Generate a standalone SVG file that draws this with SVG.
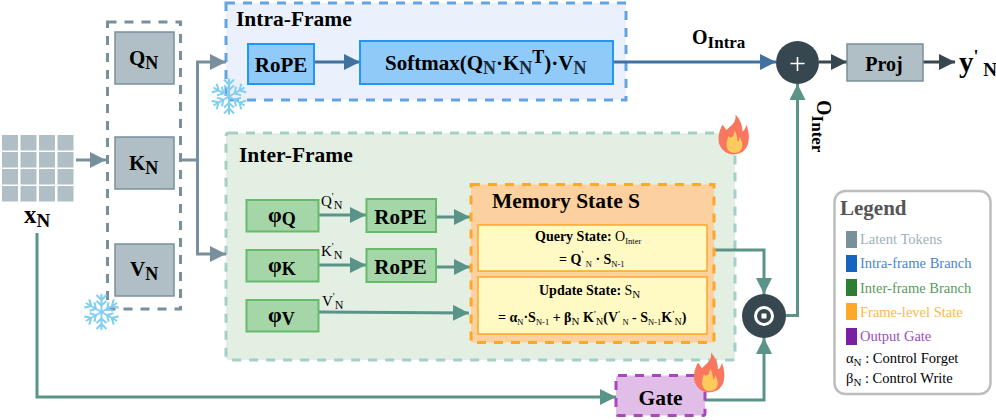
<svg xmlns="http://www.w3.org/2000/svg" xmlns:xlink="http://www.w3.org/1999/xlink" width="996" height="420" viewBox="0 0 996 420">
<style>
text{font-family:"Liberation Serif","Times New Roman",serif;fill:#000}
.b{font-weight:700}
.tk{fill:#B0BEC5;stroke:#78909C;stroke-width:1.5}
.cell{fill:#B0BEC5}
.g{fill:#A5D6A7;stroke:#66BB6A;stroke-width:2}
.bl{fill:#90CAF9;stroke:#2196F3;stroke-width:2}
.st{fill:#FFF9C4;stroke:#FFA726;stroke-width:1.5}
.c{fill:none;stroke-width:3}
.gr{stroke:#78909C}.bu{stroke:#41719F}.te{stroke:#5A9488}.dk{stroke:#37474F}
.sf{fill:none;stroke:#81CFF0;stroke-width:2}
</style>
<defs>
<marker id="aG" markerUnits="userSpaceOnUse" markerWidth="18" markerHeight="18" refX="16" refY="8" orient="auto"><path d="M0 0L16 8L0 16Z" fill="#78909C"/></marker>
<marker id="aB" markerUnits="userSpaceOnUse" markerWidth="18" markerHeight="18" refX="16" refY="8" orient="auto"><path d="M0 0L16 8L0 16Z" fill="#41719F"/></marker>
<marker id="aT" markerUnits="userSpaceOnUse" markerWidth="18" markerHeight="18" refX="16" refY="8" orient="auto"><path d="M0 0L16 8L0 16Z" fill="#5A9488"/></marker>
<marker id="aD" markerUnits="userSpaceOnUse" markerWidth="18" markerHeight="18" refX="16" refY="8" orient="auto"><path d="M0 0L16 8L0 16Z" fill="#37474F"/></marker>
<g id="snow"><g id="arm"><path class="sf" d="M0 0V-18M-5 -17L0 -12L5 -17M-5 -11L0 -6.500L5 -11"/></g>
<use xlink:href="#arm" href="#arm" transform="rotate(60)"/><use xlink:href="#arm" href="#arm" transform="rotate(120)"/><use xlink:href="#arm" href="#arm" transform="rotate(180)"/><use xlink:href="#arm" href="#arm" transform="rotate(240)"/><use xlink:href="#arm" href="#arm" transform="rotate(300)"/></g>
<g id="fire"><path d="M2 -20C3 -12 -3 -10 -7 -6C-9 -9 -10 -10 -11 -11C-15 -5 -16 2 -14 7C-11 13 -5 16 1 15.500C8 15 14 11 15 4C16 -1 15 -6 13 -11C12 -8 11 -6 9 -5C9 -11 6 -16 2 -20Z" fill="#F8775E"/><path d="M1 -6C1 0 -3 2 -5 -1C-7 4 -8 8 -5 12C-2 15 4 15 7 12C10 9 9 4 6 0C6 3 5 4 4 4C4 1 3 -3 1 -6Z" fill="#FFCA5C"/></g>
</defs>

<g id="intra-frame">
<rect x="226" y="3" width="400" height="97" fill="#EAF1FC" stroke="#64A3E3" stroke-width="3" stroke-dasharray="9 8"/>
<text class="b" x="236" y="26" font-size="21.500">Intra-Frame</text>
</g>
<g id="inter-frame">
<rect x="226" y="133" width="509" height="227" rx="3" fill="#E4EFE4" stroke="#A5CFC2" stroke-width="3" stroke-dasharray="9 8"/>
<text class="b" x="239" y="162" font-size="21.500">Inter-Frame</text>
</g>
<g id="tokens">
<rect class="cell" x="2" y="135" width="16" height="15.500"/><rect class="cell" x="20.500" y="135" width="16" height="15.500"/><rect class="cell" x="39" y="135" width="16" height="15.500"/><rect class="cell" x="57.500" y="135" width="16" height="15.500"/>
<rect class="cell" x="2" y="152" width="16" height="15.500"/><rect class="cell" x="20.500" y="152" width="16" height="15.500"/><rect class="cell" x="39" y="152" width="16" height="15.500"/><rect class="cell" x="57.500" y="152" width="16" height="15.500"/>
<rect class="cell" x="2" y="169" width="16" height="15.500"/><rect class="cell" x="20.500" y="169" width="16" height="15.500"/><rect class="cell" x="39" y="169" width="16" height="15.500"/><rect class="cell" x="57.500" y="169" width="16" height="15.500"/>
<rect class="cell" x="2" y="186" width="16" height="15.500"/><rect class="cell" x="20.500" y="186" width="16" height="15.500"/><rect class="cell" x="39" y="186" width="16" height="15.500"/><rect class="cell" x="57.500" y="186" width="16" height="15.500"/>
<text class="b" x="24" y="223" font-size="25">x<tspan font-size="19" dy="4">N</tspan></text>
</g>
<g id="latent">
<rect x="107.500" y="22" width="73" height="287" fill="#fff" stroke="#78909C" stroke-width="3" stroke-dasharray="9 8"/>
</g>
<g id="QN"><rect class="tk" x="115" y="32" width="59" height="52"/><text class="b" x="129" y="65" font-size="21">Q<tspan font-size="18" dy="4">N</tspan></text></g>
<g id="KN"><rect class="tk" x="115" y="137" width="59" height="52"/><text class="b" x="129" y="170" font-size="21">K<tspan font-size="18" dy="4">N</tspan></text></g>
<g id="VN"><rect class="tk" x="115" y="244" width="59" height="52"/><text class="b" x="130" y="276" font-size="21">V<tspan font-size="18" dy="4">N</tspan></text></g>

<g id="connectors">
<path class="c gr" d="M76 160H106" marker-end="url(#aG)"/>
<path class="c gr" d="M180 160H197.500V62H226" marker-end="url(#aG)"/>
<path class="c gr" d="M197.500 160V254H226" marker-end="url(#aG)"/>
<path class="c bu" d="M314 62H360" marker-end="url(#aB)"/>
<path class="c bu" d="M613 62H776" marker-end="url(#aB)"/>
<path class="c dk" d="M819 62H847" marker-end="url(#aD)"/>
<path class="c dk" d="M923 62H955" marker-end="url(#aD)"/>
<path class="c te" d="M318 215H366" marker-end="url(#aT)"/>
<path class="c te" d="M318 265H366" marker-end="url(#aT)"/>
<path class="c te" d="M436 217H470" marker-end="url(#aT)"/>
<path class="c te" d="M436 267H470" marker-end="url(#aT)"/>
<path class="c te" d="M318 312L469 313" marker-end="url(#aT)"/>
<path class="c te" d="M707 250H764V294" marker-end="url(#aT)"/>
<path class="c te" d="M705 400H764V338" marker-end="url(#aT)"/>
<path class="c te" d="M786 315.500H797.500V84" marker-end="url(#aT)"/>
<path class="c te" d="M37 233V397H616" marker-end="url(#aT)"/>
</g>

<g id="rope-intra"><rect class="bl" x="248" y="44" width="66" height="40"/><text class="b" x="281" y="72" font-size="21" text-anchor="middle">RoPE</text></g>
<g id="softmax"><rect class="bl" x="360" y="41" width="253" height="43"/><text class="b" x="385" y="70" font-size="21">Softmax(Q<tspan font-size="18" dy="4" fill="#1b2a3a">N</tspan><tspan dy="-4">·K</tspan><tspan font-size="18" dy="4" fill="#1b2a3a">N</tspan><tspan font-size="18" dy="-11">T</tspan><tspan dy="7">)·V</tspan><tspan font-size="18" dy="4" fill="#1b2a3a">N</tspan></text></g>

<g id="phiQ"><rect class="g" x="246.500" y="200" width="72" height="31.500"/><text class="b" x="268" y="222" font-size="22">φ<tspan font-size="18" dy="3">Q</tspan></text><text x="321" y="206" font-size="15">Q<tspan dy="-6" font-size="10">'</tspan><tspan dy="9" font-size="12">N</tspan></text></g>
<g id="phiK"><rect class="g" x="246.500" y="250" width="72" height="31.500"/><text class="b" x="268" y="272" font-size="22">φ<tspan font-size="18" dy="3">K</tspan></text><text x="321" y="256" font-size="15">K<tspan dy="-6" font-size="10">'</tspan><tspan dy="9" font-size="12">N</tspan></text></g>
<g id="phiV"><rect class="g" x="246.500" y="300" width="72" height="31.500"/><text class="b" x="268" y="322" font-size="22">φ<tspan font-size="18" dy="3">V</tspan></text><text x="322" y="306" font-size="15">V<tspan dy="-6" font-size="10">'</tspan><tspan dy="9" font-size="12">N</tspan></text></g>
<g id="rope-q"><rect class="g" x="366.500" y="199" width="69.500" height="33"/><text class="b" x="400.500" y="224" font-size="21" text-anchor="middle">RoPE</text></g>
<g id="rope-k"><rect class="g" x="366.500" y="249" width="69.500" height="33"/><text class="b" x="400.500" y="274" font-size="21" text-anchor="middle">RoPE</text></g>

<g id="memory">
<rect x="471" y="184.500" width="243" height="158" fill="#FDD09F" stroke="#FFA726" stroke-width="3" stroke-dasharray="9 8"/>
<text class="b" x="492" y="208" font-size="21.500">Memory State S</text>
<rect class="st" x="478" y="225" width="229" height="46"/>
<text class="b" x="535" y="241" font-size="14">Query State: <tspan font-weight="400">O</tspan><tspan font-weight="400" font-size="8.500" dy="3">Inter</tspan></text>
<text class="b" x="559" y="264" font-size="14">= Q<tspan font-size="8" dy="-7">'</tspan><tspan font-size="8.500" font-weight="400" dy="10"> N</tspan><tspan dy="-3"> · S</tspan><tspan font-size="8.500" font-weight="400" dy="3">N-1</tspan></text>
<rect class="st" x="478" y="277" width="229" height="57"/>
<text class="b" x="539" y="295" font-size="14">Update State: <tspan font-weight="400">S</tspan><tspan font-weight="400" font-size="11" dy="3">N</tspan></text>
<text class="b" x="498" y="322" font-size="14">= α<tspan font-size="8.500" font-weight="400" dy="3">N</tspan><tspan dy="-3">·S</tspan><tspan font-size="8.500" font-weight="400" dy="3">N-1</tspan><tspan dy="-3"> + β</tspan><tspan font-size="11" font-weight="400" dy="3">N</tspan><tspan dy="-3"> K</tspan><tspan font-size="8" dy="-5">'</tspan><tspan font-size="10" font-weight="400" dy="8">N</tspan><tspan dy="-3">(V</tspan><tspan font-size="8" dy="-5">'</tspan><tspan font-size="8.500" font-weight="400" dy="8"> N</tspan><tspan dy="-3"> - S</tspan><tspan font-size="8.500" font-weight="400" dy="3">N-1</tspan><tspan dy="-3">K</tspan><tspan font-size="8" dy="-5">'</tspan><tspan font-size="10" font-weight="400" dy="8">N</tspan><tspan dy="-3">)</tspan></text>
</g>

<g id="gate"><rect x="616" y="375.500" width="89" height="40" rx="2" fill="#E1BEE7" stroke="#AB47BC" stroke-width="3" stroke-dasharray="9 8"/><text class="b" x="660.500" y="405" font-size="21.500" text-anchor="middle">Gate</text></g>

<g id="plus"><circle cx="797.500" cy="62.500" r="21.500" fill="#37474F"/><path d="M797.500 57V71M790.500 63.500H804.500" stroke="#fff" stroke-width="1.600"/></g>
<g id="odot"><circle cx="764" cy="316" r="22" fill="#37474F"/><circle cx="764" cy="316" r="8.500" fill="none" stroke="#fff" stroke-width="3"/><rect x="761.500" y="313.500" width="5" height="5" fill="#fff"/></g>
<g id="proj"><rect class="tk" x="847" y="44" width="76" height="37"/><text class="b" x="884" y="71" font-size="20" text-anchor="middle">Proj</text></g>

<text class="b" x="692" y="44" font-size="20">O<tspan font-size="17" dy="4">Intra</tspan></text>
<text class="b" font-size="20" transform="translate(817 100) rotate(90)">O<tspan font-size="17" dy="5">Inter</tspan></text>
<text class="b" x="959" y="72" font-size="29">y<tspan font-size="18" dy="-9">'</tspan><tspan font-size="19" dy="13"> N</tspan></text>

<use xlink:href="#snow" href="#snow" x="229" y="96.500"/>
<use xlink:href="#snow" href="#snow" x="101.500" y="312"/>
<use xlink:href="#fire" href="#fire" transform="translate(733.500 137) scale(1 1.120)"/>
<use xlink:href="#fire" href="#fire" transform="translate(709 375) scale(1 1.120)"/>

<g id="legend">
<rect x="834.500" y="191" width="156" height="203" rx="11" fill="#fff" stroke="#BDBDBD" stroke-width="2.500"/>
<text class="b" x="840" y="215" font-size="21" style="fill:#555">Legend</text>
<rect x="846" y="231" width="11" height="17" fill="#78909C"/><text x="860" y="244" font-size="14.500" style="fill:#9FB0BA">Latent Tokens</text>
<rect x="846" y="255" width="11" height="17" fill="#1565C0"/><text x="860" y="268" font-size="14.500" style="fill:#4A86D0">Intra-frame Branch</text>
<rect x="846" y="279" width="11" height="17" fill="#2E7D32"/><text x="860" y="293" font-size="14.500" style="fill:#5A9A60">Inter-frame Branch</text>
<rect x="846" y="303" width="11" height="17" fill="#FFA726"/><text x="860" y="317" font-size="14.500" style="fill:#FFB74D">Frame-level State</text>
<rect x="846" y="328" width="11" height="17" fill="#7B1FA2"/><text x="860" y="341" font-size="14.500" style="fill:#9C4DBE">Output Gate</text>
<text x="846" y="363" font-size="14.500">α<tspan font-size="11" dy="3">N</tspan><tspan dy="-3"> : Control Forget</tspan></text>
<text x="846" y="383" font-size="14.500">β<tspan font-size="11" dy="3">N</tspan><tspan dy="-3"> : Control Write</tspan></text>
</g>
</svg>
